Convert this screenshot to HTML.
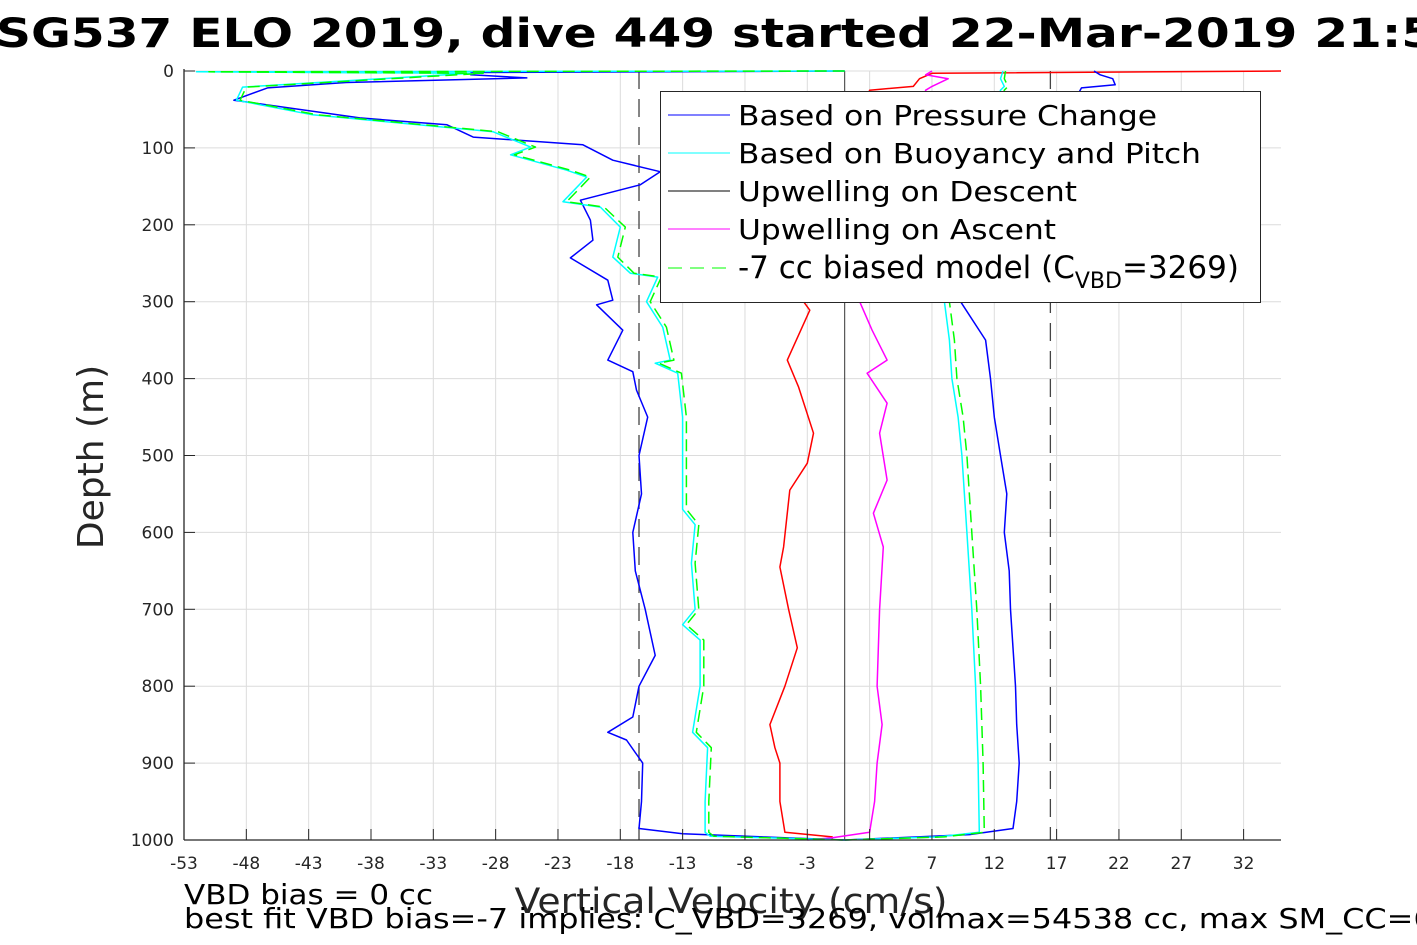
<!DOCTYPE html>
<html><head><meta charset="utf-8"><style>
html,body{margin:0;padding:0;background:#fff;width:1417px;height:945px;overflow:hidden}
svg{display:block;font-family:"DejaVu Sans","Liberation Sans",sans-serif}
</style></head><body>
<svg id="chart" width="1417" height="945" viewBox="0 0 1417 945" xmlns="http://www.w3.org/2000/svg">
<text x="-4" y="47" font-size="40" font-weight="bold" fill="#000" textLength="1560" lengthAdjust="spacingAndGlyphs">SG537 ELO 2019, dive 449 started 22-Mar-2019 21:54:35</text>
<g id="grid"></g>
<g id="series" clip-path="url(#clip)"></g>
<defs><clipPath id="clip"><rect x="184" y="68" width="1098" height="774"/></clipPath></defs>
<g id="axes"></g>
<g>
<rect x="660.5" y="91.5" width="600" height="211" fill="#fff" stroke="#262626" stroke-width="1"/>
<line x1="668" y1="115" x2="730" y2="115" stroke="#0000ff"/>
<text x="738" y="125" font-size="28" textLength="419" lengthAdjust="spacingAndGlyphs">Based on Pressure Change</text>
<line x1="668" y1="153" x2="730" y2="153" stroke="#00ffff"/>
<text x="738" y="163" font-size="28" textLength="463" lengthAdjust="spacingAndGlyphs">Based on Buoyancy and Pitch</text>
<line x1="668" y1="191" x2="730" y2="191" stroke="#000"/>
<text x="738" y="201" font-size="28" textLength="339" lengthAdjust="spacingAndGlyphs">Upwelling on Descent</text>
<line x1="668" y1="229" x2="730" y2="229" stroke="#ff00ff"/>
<text x="738" y="239" font-size="28" textLength="318" lengthAdjust="spacingAndGlyphs">Upwelling on Ascent</text>
<line x1="668" y1="268" x2="730" y2="268" stroke="#00ff00" stroke-dasharray="14,8"/>
<text x="738" y="278" font-size="31">-7 cc biased model (C<tspan font-size="22" dy="10">VBD</tspan><tspan dy="-10">=3269)</tspan></text>
</g>
<text transform="translate(103,457) rotate(-90)" text-anchor="middle" font-size="36" fill="#262626">Depth (m)</text>
<text x="731" y="913" text-anchor="middle" font-size="35" fill="#262626" textLength="433" lengthAdjust="spacingAndGlyphs">Vertical Velocity (cm/s)</text>
<text x="184" y="904" font-size="28" fill="#000" textLength="249" lengthAdjust="spacingAndGlyphs">VBD bias = 0 cc</text>
<text x="184" y="928" font-size="28" fill="#000" textLength="1270" lengthAdjust="spacingAndGlyphs">best fit VBD bias=-7 implies: C_VBD=3269, volmax=54538 cc, max SM_CC=68</text>
</svg>
<script>
const xTicks=[-53,-48,-43,-38,-33,-28,-23,-18,-13,-8,-3,2,7,12,17,22,27,32];
const yTicks=[0,100,200,300,400,500,600,700,800,900,1000];
const refLines=[-16.5,0,16.5];
const blueDescDepth=[0,2,5,9,15,22,38,61,70,86,96,116,131,148,168,194,220,243,272,298,304,337,376,391,415,450,500,550,600,650,700,760,800,840,860,870,900,950,985,992,1000];
const blueDescVel=[0,-30,-30,-25.5,-40,-46.3,-49,-38.9,-31.9,-29.8,-21,-18.6,-14.8,-16.4,-21.2,-20.4,-20.2,-22,-19,-18.6,-19.9,-17.8,-19,-17,-16.7,-15.8,-16.5,-16.3,-17,-16.8,-16,-15.2,-16.5,-17,-19,-17.5,-16.2,-16.3,-16.5,-13,0];
const blueAscDepth=[0,5,10,18,22,300,350,400,450,500,550,600,650,700,750,800,850,900,950,985,993,1000];
const blueAscVel=[20,20.5,21.5,21.7,19,9.3,11.3,11.7,12,12.5,13,12.8,13.2,13.3,13.5,13.7,13.8,14,13.8,13.5,10,0];
const cyanDescDepth=[0,1,3,21,38,57,79,99,109,129,138,170,177,203,242,263,268,300,333,376,380,393,450,500,570,590,640,700,720,740,800,860,880,950,990,995,1000];
const cyanDescVel=[0,-52,-30,-48.3,-48.8,-42.7,-28.2,-25.2,-26.8,-22.3,-20.7,-22.6,-19.6,-18,-18.6,-17.2,-15,-15.9,-14.6,-14,-15.2,-13.4,-13,-13,-13,-12,-12.3,-12,-13,-11.6,-11.6,-12.2,-11,-11.2,-11.2,-10.8,0];
const greenDescVel=[0,-51,-29,-48,-48.5,-42.3,-27.8,-24.8,-26.5,-22,-20.4,-22.3,-19.3,-17.6,-18.2,-16.9,-14.7,-15.6,-14.3,-13.7,-14.9,-13.1,-12.7,-12.7,-12.7,-11.7,-12,-11.7,-12.7,-11.3,-11.3,-11.9,-10.7,-10.9,-10.9,-10.5,0];
const cyanAscDepth=[0,10,20,25,300,350,400,450,500,600,700,800,900,990,996,1000];
const cyanAscVel=[12.7,12.5,12.8,12.5,8,8.4,8.6,9.1,9.4,9.8,10.2,10.5,10.7,10.8,7.5,0];
const greenAscVel=[12.9,12.8,13.1,12.8,8.4,8.8,9,9.5,9.8,10.2,10.6,10.9,11.1,11.2,8,0];
const redDepth=[0,3,10,20,25,300,311,376,411,471,510,545,619,645,700,750,800,850,880,900,950,990,996,1000];
const redVel=[35,7,6,5.5,2,-3.3,-2.8,-4.6,-3.7,-2.5,-3,-4.4,-4.9,-5.2,-4.5,-3.8,-4.8,-6,-5.6,-5.2,-5.2,-4.8,-1,-1];
const magDepth=[0,5,10,20,25,300,337,376,393,432,471,532,575,619,700,800,850,900,950,990,997,1000];
const magVel=[7,6.5,8.3,7,6.5,1.2,2.2,3.4,1.8,3.4,2.8,3.4,2.3,3.1,2.8,2.6,3,2.6,2.4,2,-1,-3];

const X0=184,X1=1281,Y0=71,Y1=840,XMIN=-53,XMAX=35,DMAX=1000;
const sx=v=>X0+(v-XMIN)*(X1-X0)/(XMAX-XMIN);
const sy=d=>Y0+d*(Y1-Y0)/DMAX;
const NS='http://www.w3.org/2000/svg';
function mk(tag,attrs,parent){const e=document.createElementNS(NS,tag);for(const k in attrs)e.setAttribute(k,attrs[k]);parent.appendChild(e);return e;}
const grid=document.getElementById('grid'),axes=document.getElementById('axes'),ser=document.getElementById('series');
xTicks.forEach(t=>{
  const g=mk('line',{x1:sx(t),x2:sx(t),y1:Y0,y2:Y1,stroke:'#dcdcdc','stroke-width':1},grid);
  
  
  const tk=mk('line',{x1:sx(t),x2:sx(t),y1:Y1,y2:Y1-11,stroke:'#262626','stroke-width':1},axes);
  
  
  const lb=mk('text',{x:sx(t),y:Y1+29,'text-anchor':'middle','font-size':17,fill:'#262626'},axes);
  lb.textContent=t;
  
  
});
yTicks.forEach(t=>{
  const g=mk('line',{x1:X0,x2:X1,y1:sy(t),y2:sy(t),stroke:'#dcdcdc','stroke-width':1},grid);
  
  
  const tk=mk('line',{x1:X0,x2:X0+11,y1:sy(t),y2:sy(t),stroke:'#262626','stroke-width':1},axes);
  
  
  const lb=mk('text',{x:X0-10,y:sy(t)+6,'text-anchor':'end','font-size':17,fill:'#262626'},axes);
  lb.textContent=t;
  
  
});
const la=mk('line',{x1:X0,x2:X0,y1:Y0-2,y2:Y1,stroke:'#262626','stroke-width':1.3},axes);


const ba=mk('line',{x1:X0,x2:X1,y1:Y1,y2:Y1,stroke:'#262626','stroke-width':1.3},axes);


refLines.forEach(v=>{
  const a={x1:sx(v),x2:sx(v),y1:Y0,y2:Y1,stroke:v===0?'#333':'#444','stroke-width':v===0?1:1.3};
  if(v!==0)a['stroke-dasharray']='18,10';
  const l=mk('line',a,ser);
  
  
});
function line(ds,vs,color,name,dash){
  const pts=ds.map((d,i)=>sx(vs[i]).toFixed(1)+','+sy(d).toFixed(1)).join(' ');
  const a={points:pts,fill:'none',stroke:color,'stroke-width':1.5,'stroke-linejoin':'round'};
  if(dash)a['stroke-dasharray']=dash;
  const p=mk('polyline',a,ser);
  
  
}
line(redDepth,redVel,'#ff0000','upwelling-descent-line');
line(magDepth,magVel,'#ff00ff','upwelling-ascent-line');
line(blueDescDepth,blueDescVel,'#0000ff','pressure-descent-line');
line(blueAscDepth,blueAscVel,'#0000ff','pressure-ascent-line');
line(cyanDescDepth,cyanDescVel,'#00ffff','buoyancy-descent-line');
line(cyanAscDepth,cyanAscVel,'#00ffff','buoyancy-ascent-line');
line(cyanDescDepth,greenDescVel,'#00ff00','model-descent-line','12,6');
line(cyanAscDepth,greenAscVel,'#00ff00','model-ascent-line','12,6');
</script>
</body></html>
